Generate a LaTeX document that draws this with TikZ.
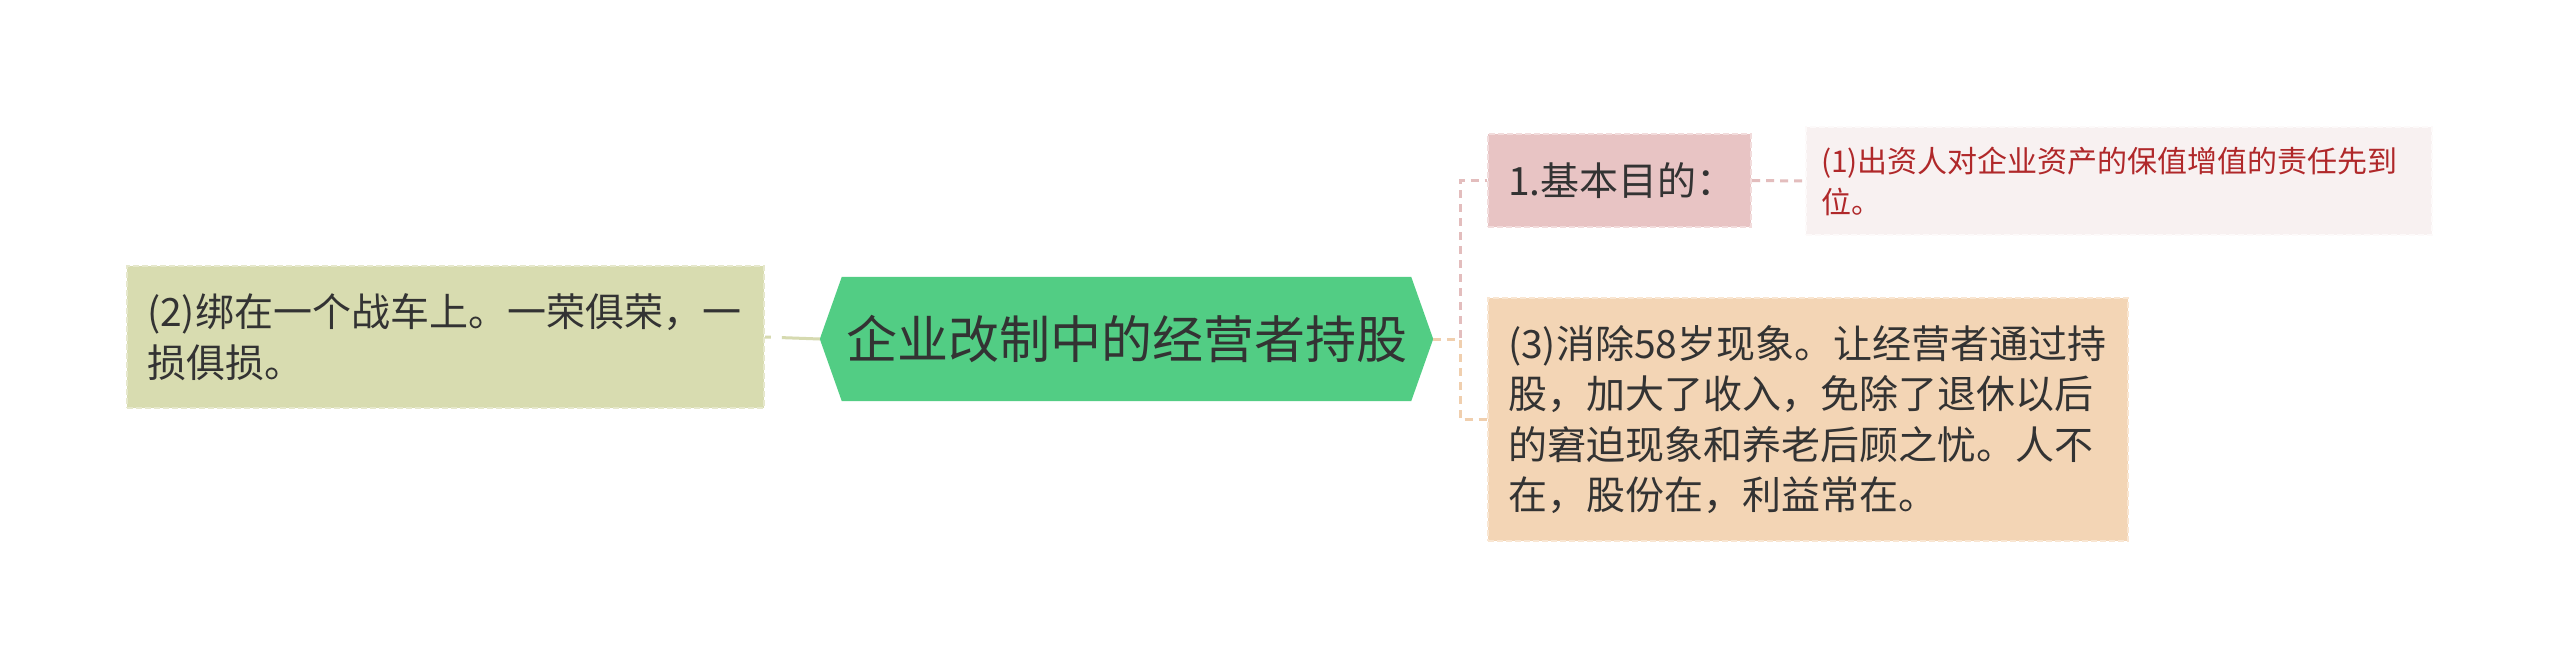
\documentclass[tikz,border=0pt]{standalone}
\usepackage{fontspec}
\setmainfont{Noto Sans CJK SC}
\usetikzlibrary{backgrounds}
\definecolor{txt}{HTML}{333333}
\definecolor{olivefill}{HTML}{D8DCB0}
\definecolor{olivedash}{HTML}{E6E8CC}
\definecolor{greenfill}{HTML}{52CD84}
\definecolor{pinkfill}{HTML}{E8C4C4}
\definecolor{pinkdash}{HTML}{F2DCDC}
\definecolor{palefill}{HTML}{F8F1F1}
\definecolor{paledash}{HTML}{FDFAFA}
\definecolor{peachfill}{HTML}{F3D5B5}
\definecolor{peachdash}{HTML}{F9E6D2}
\definecolor{redtxt}{HTML}{B0282A}
\definecolor{pinkline}{HTML}{E3BDBD}
\definecolor{peachline}{HTML}{F0CFAE}
\definecolor{oliveline}{HTML}{D6DAB0}
\tikzset{
  leafbox/.style={rectangle, inner sep=0pt, align=left, text=txt,
    line width=2pt, dash pattern=on 6pt off 3pt,
    font=\fontsize{39}{50.5}\selectfont},
  conn/.style={line width=3pt, dash pattern=on 8pt off 6pt},
}
\begin{document}
\begin{tikzpicture}[x=1pt,y=-1pt]
\useasboundingbox (0,0) rectangle (2560,669);

% left leaf
\node[leafbox, fill=olivefill, draw=olivedash, minimum width=637pt, minimum height=142pt,
  text width=597pt] (left) at (445.5,337) {(2)绑在一个战车上。一荣俱荣，一\\损俱损。};

% root
\node[inner sep=0pt, minimum width=613pt, minimum height=124pt, text=txt,
  font=\fontsize{51}{60}\selectfont] (root) at (1126.5,339) {企业改制中的经营者持股};
\begin{scope}[on background layer]
\fill[white] (0,0) rectangle (2560,669);
\fill[greenfill] (root.west) -- ([xshift=22pt]root.north west) -- ([xshift=-22pt]root.north east)
  -- (root.east) -- ([xshift=-22pt]root.south east) -- ([xshift=22pt]root.south west) -- cycle;
\end{scope}

% node 1
\node[leafbox, fill=pinkfill, draw=pinkdash, minimum width=263pt, minimum height=93pt,
  text width=223pt] (one) at (1619.5,180.5) {1.基本目的：};

% far right
\node[leafbox, fill=palefill, draw=paledash, minimum width=626pt, minimum height=108pt,
  text width=596pt, text=redtxt, font=\fontsize{30}{41}\selectfont] (far) at (2119,181)
  {(1)出资人对企业资产的保值增值的责任先到\\位。};

% node 3
\node[leafbox, fill=peachfill, draw=peachdash, minimum width=640pt, minimum height=243pt,
  text width=600pt] (three) at (1808,419.5)
  {(3)消除58岁现象。让经营者通过持\\股，加大了收入，免除了退休以后\\的窘迫现象和养老后顾之忧。人不\\在，股份在，利益常在。};

\coordinate (fork) at (1460,339);

% connectors
\draw[oliveline, line width=3pt, dash pattern=on 38pt off 11pt] (root.west) -- (left.east);
\draw[conn, pinkline] (root.east) -- (fork) |- (one.west);
\draw[conn, peachline] (root.east) -- (fork) |- (three.west);
\draw[conn, pinkline] (one.east) -- (far.west);
\end{tikzpicture}
\end{document}
